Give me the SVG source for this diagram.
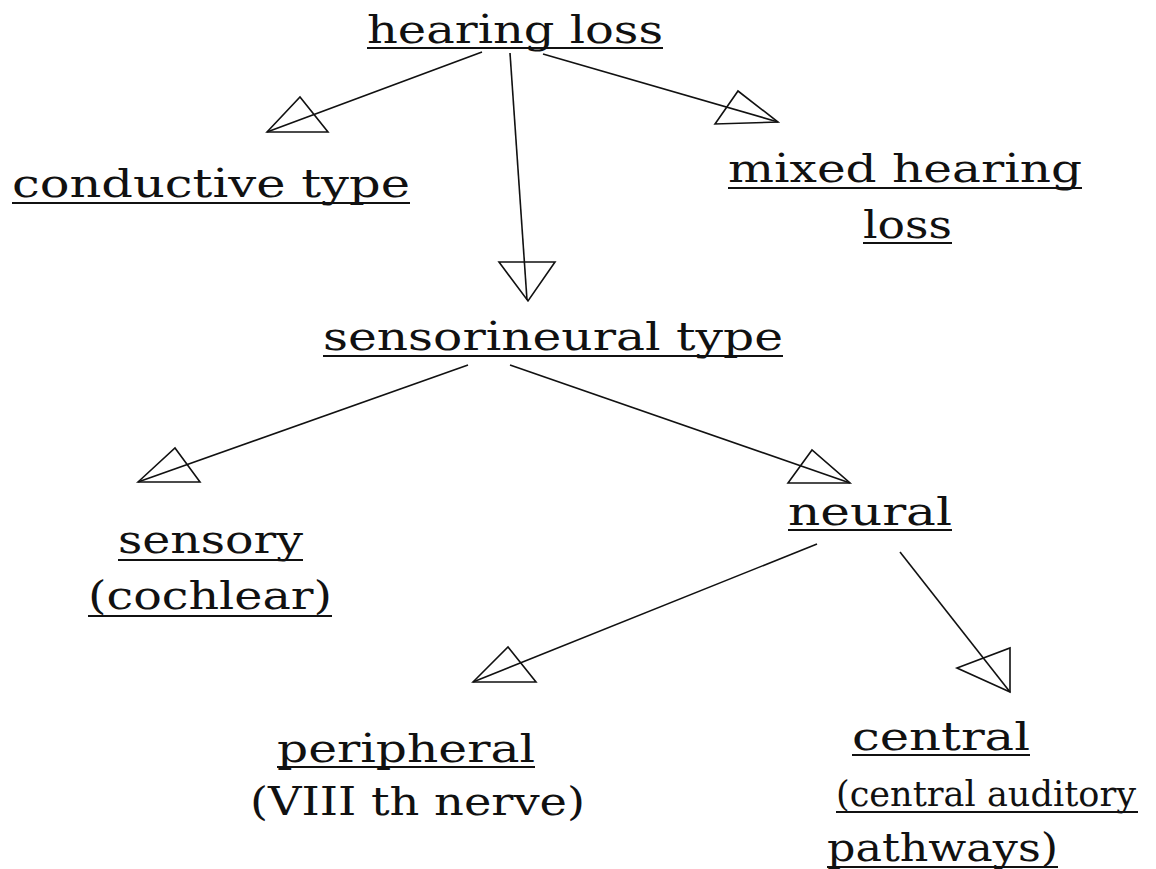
<svg xmlns="http://www.w3.org/2000/svg" width="1156" height="869" viewBox="0 0 1156 869">
<style>
text{font-family:"DejaVu Serif","Liberation Serif",serif;font-size:40px;fill:#111;}
.s{font-size:36px;}
.u{stroke:#111;stroke-width:2;}
.c line{stroke:#111;stroke-width:1.6;}
.c polygon{fill:none;stroke:#111;stroke-width:1.6;stroke-linejoin:miter;}
</style>
<rect width="1156" height="869" fill="#fff"/>
<g id="n-hearing-loss">
<text x="367" y="43" textLength="296" lengthAdjust="spacingAndGlyphs">hearing loss</text>
<line class="u" x1="367" y1="48" x2="663" y2="48"/>
</g>
<g id="n-conductive">
<text x="12" y="197" textLength="398" lengthAdjust="spacingAndGlyphs">conductive type</text>
<line class="u" x1="12" y1="203" x2="410" y2="203"/>
</g>
<g id="n-mixed">
<text x="728" y="182" textLength="354" lengthAdjust="spacingAndGlyphs">mixed hearing</text>
<line class="u" x1="728" y1="188" x2="1082" y2="188"/>
<text x="863" y="238" textLength="89" lengthAdjust="spacingAndGlyphs">loss</text>
<line class="u" x1="863" y1="243" x2="952" y2="243"/>
</g>
<g id="n-sensorineural">
<text x="323" y="350" textLength="460" lengthAdjust="spacingAndGlyphs">sensorineural type</text>
<line class="u" x1="323" y1="356" x2="783" y2="356"/>
</g>
<g id="n-sensory">
<text x="118" y="553" textLength="185" lengthAdjust="spacingAndGlyphs">sensory</text>
<line class="u" x1="118" y1="560" x2="303" y2="560"/>
<text x="88" y="609" textLength="244" lengthAdjust="spacingAndGlyphs">(cochlear)</text>
<line class="u" x1="88" y1="616" x2="332" y2="616"/>
</g>
<g id="n-neural">
<text x="788" y="525" textLength="164" lengthAdjust="spacingAndGlyphs">neural</text>
<line class="u" x1="788" y1="530" x2="952" y2="530"/>
</g>
<g id="n-peripheral">
<text x="277" y="762" textLength="258" lengthAdjust="spacingAndGlyphs">peripheral</text>
<line class="u" x1="277" y1="767" x2="535" y2="767"/>
<text x="250" y="815" textLength="335" lengthAdjust="spacingAndGlyphs">(VIII th nerve)</text>
</g>
<g id="n-central">
<text x="852" y="750" textLength="178" lengthAdjust="spacingAndGlyphs">central</text>
<line class="u" x1="852" y1="755" x2="1030" y2="755"/>
<text class="s" x="836" y="806" textLength="300" lengthAdjust="spacingAndGlyphs">(central auditory</text>
<line class="u" x1="836" y1="812" x2="1138" y2="812"/>
<text x="827" y="861" textLength="231" lengthAdjust="spacingAndGlyphs">pathways)</text>
<line class="u" x1="827" y1="867" x2="1058" y2="867"/>
</g>
<g id="connectors" class="c">
<line x1="482" y1="52" x2="267" y2="132"/>
<polygon points="267,132 300,97 328,132"/>
<line x1="543" y1="54" x2="778" y2="122"/>
<polygon points="715,124 738,91 778,122"/>
<line x1="510" y1="53" x2="527" y2="300"/>
<polygon points="499,262 555,262 528,301"/>
<line x1="468" y1="365" x2="138" y2="482"/>
<polygon points="138,482 175,448 200,482"/>
<line x1="510" y1="365" x2="850" y2="483"/>
<polygon points="788,483 812,450 850,483"/>
<line x1="817" y1="544" x2="473" y2="682"/>
<polygon points="473,682 508,647 536,682"/>
<line x1="900" y1="552" x2="1010" y2="692"/>
<polygon points="957,668 1010,648 1010,692"/>
</g>
</svg>
